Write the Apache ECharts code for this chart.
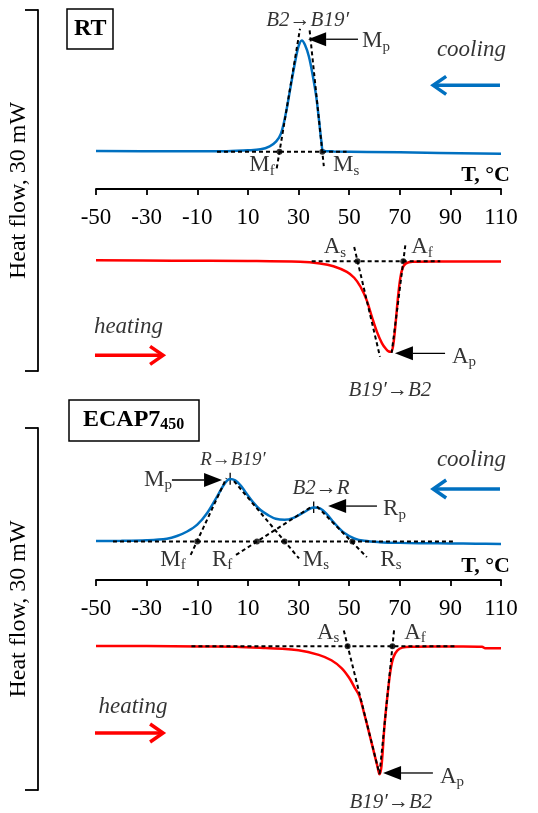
<!DOCTYPE html>
<html>
<head>
<meta charset="utf-8">
<script src="https://cdn.jsdelivr.net/npm/echarts@6/dist/echarts.min.js"></script>
<style>
html,body{margin:0;padding:0;background:#fff}
#main{width:538px;height:813px}
</style>
</head>
<body>
<div id="main"></div>
<script>
// DSC curves, T in degC, heat flow in mW (0 = temperature axis line)
var ticksT = [-50, 110, 20];

// RT state
var rtCoolT  = [-50,-20,0,10,15,18.6,21.2,23.1,25,26.9,28.7,30,31.3,32.5,34.1,35.7,37,38.2,39.1,39.9,44,70,110];
var rtCoolHF = [3.18,3.16,3.16,3.24,3.32,3.57,3.98,4.65,6.31,8.55,10.62,11.87,12.37,12.03,11.04,9.38,7.72,5.56,3.90,3.18,3.15,3.07,2.96];
var rtHeatT  = [-50,-20,10,30.6,38.5,43.8,49.1,52,54.5,57,59,61,63,64.5,65.7,66.5,67.3,68.2,69.2,70.2,71.2,72.5,75,83.3,110];
var rtHeatHF = [-5.89,-5.93,-5.96,-6.03,-6.17,-6.39,-6.86,-7.35,-8.1,-9.25,-10.6,-11.85,-12.8,-13.25,-13.48,-13.5,-13.1,-11.5,-9.2,-7.4,-6.5,-6.15,-6.03,-6.0,-6.0];
// tangent construction lines [T1, HF1, T2, HF2]
var rtTangents = [[-2.2,3.13,49,3.13],[21.4,1.74,30.6,13.34],[34.4,13.2,40.0,1.92],
                  [35.2,-5.975,86,-5.975],[52.0,-4.79,62.2,-13.92],[72.2,-4.65,66.8,-13.6]];
var rtPoints = [[22.5,3.13],[39.4,3.13],[53.3,-5.975],[71.4,-5.975]];

// ECAP7 450 state
var ecCoolT  = [-50,-40,-30,-22,-18,-14,-10,-6,-2,1,3,5,7,9,12,15,18,21,24.5,28,32,36,38.5,41,44,48,52,56,62,70,80,90,100,110];
var ecCoolHF = [3.24,3.25,3.30,3.43,3.65,4.02,4.59,5.58,6.98,8.05,8.38,8.26,7.88,7.30,6.46,5.80,5.38,5.08,4.99,5.15,5.60,6.01,5.93,5.51,4.76,3.92,3.46,3.25,3.14,3.08,3.05,3.03,3.01,2.99];
var ecHeatT  = [-50,-30,-9,5,17,30,38,43,47,50,52,54,56,58,60,61.2,62,62.8,64,65.5,66.5,67.5,69,71,75,83,95,102.5,103.8,110];
var ecHeatHF = [-5.46,-5.47,-5.50,-5.52,-5.64,-5.82,-6.2,-6.65,-7.3,-8.1,-8.85,-9.6,-11.1,-12.75,-14.45,-15.45,-16.1,-15.4,-12.0,-8.9,-7.3,-6.4,-5.85,-5.6,-5.52,-5.50,-5.50,-5.52,-5.65,-5.65];
var ecTangents = [[-43.3,3.2,91,3.2],[-12.6,2.08,1.5,8.44],[4.5,8.2,30.2,1.79],[5.3,2.08,34.7,6.02],[37.3,6.1,57,1.9],
                  [-12.3,-5.48,91.6,-5.48],[47.9,-4.18,62,-16.1],[67.75,-4.17,62,-16.1]];
var ecPoints = [[-10,3.2],[13.6,3.2],[24.5,3.2],[51.3,3.2],[49.4,-5.48],[67.1,-5.48]];

// annotations [T, HF, text, align]
var rtNotes = [
  [33.6,14.04,'{i|B2→B19′}'],[55.1,12.3,'{m|M}{s|p}','left'],
  [15.6,1.99,'{m|M}{s|f}'],[48.8,1.99,'{m|M}{s|s}'],[98.3,11.55,'{c|cooling}'],
  [44.4,-4.82,'{m|A}{s|s}'],[78.8,-4.82,'{m|A}{s|f}'],[90.6,-13.9,'{m|A}{s|p}','left'],
  [66.1,-16.7,'{i|B19′→B2}'],[-37.2,-11.47,'{c|heating}']
];
var ecNotes = [
  [4.1,9.94,'{j|R→B19′}'],[-20.0,8.3,'{m|M}{s|p}','right'],[38.9,7.62,'{i|B2→R}'],
  [63.4,5.85,'{m|R}{s|p}','left'],[98.3,9.94,'{c|cooling}'],
  [-19.6,1.66,'{m|M}{s|f}'],[-0.2,1.66,'{m|R}{s|f}'],[36.9,1.66,'{m|M}{s|s}'],[66.5,1.66,'{m|R}{s|s}'],
  [41.7,-4.39,'{m|A}{s|s}'],[76.0,-4.39,'{m|A}{s|f}'],[85.9,-16.3,'{m|A}{s|p}','left'],
  [66.5,-18.4,'{i|B19′→B2}'],[-35.4,-10.52,'{c|heating}']
];
// arrows [T tail, HF tail, T tip, HF tip, kind] kind: 0 black head, 1 cooling, 2 heating, 3 tick
var rtArrows = [[53.5,12.47,33.8,12.47,0],[87.9,-13.63,68.1,-13.63,0],
                [109.6,8.64,83.2,8.64,1],[-50.4,-13.8,-23.5,-13.8,2]];
var ecArrows = [[-20.0,8.29,-0.2,8.29,0],[61.0,6.13,41.7,6.13,0],[83.1,-15.99,63.4,-15.99,0],
                [109.6,7.54,83.2,7.54,1],[-50.4,-12.68,-23.5,-12.68,2],
                [3,7.9,3,8.9,3],[36,5.55,36,6.5,3]];

var FONT = '"Liberation Serif", "Times New Roman", serif';
var BLUE = '#0070C0', RED = '#FF0000';
var chart = echarts.init(document.getElementById('main'));

function pairs(xs, ys) {
  return xs.map(function (x, i) { return [x, ys[i]]; });
}

var RICH = {
  m: {fontFamily: FONT, fontSize: 23, lineHeight: 26, color: '#000'},
  s: {fontFamily: FONT, fontSize: 15, lineHeight: 14, verticalAlign: 'bottom', color: '#000'},
  i: {fontFamily: FONT, fontSize: 21, fontStyle: 'italic', color: '#000'},
  j: {fontFamily: FONT, fontSize: 19, fontStyle: 'italic', color: '#000'},
  c: {fontFamily: FONT, fontSize: 23, fontStyle: 'italic', color: '#000'}
};

function arrowItem(params, api) {
  var p1 = api.coord([api.value(0), api.value(1)]);
  var p2 = api.coord([api.value(2), api.value(3)]);
  var kind = api.value(4);
  var dx = p2[0] - p1[0], dy = p2[1] - p1[1];
  var len = Math.sqrt(dx * dx + dy * dy);
  var ux = dx / len, uy = dy / len, nx = -uy, ny = ux;
  if (kind === 3) {
    return {type: 'line', shape: {x1: p1[0], y1: p1[1], x2: p2[0], y2: p2[1]}, style: {stroke: '#000', lineWidth: 1.3}};
  }
  if (kind === 0) {
    var hl = 18, hw = 7;
    var bx = p2[0] - ux * hl, by = p2[1] - uy * hl;
    return {type: 'group', children: [
      {type: 'line', shape: {x1: p1[0], y1: p1[1], x2: bx, y2: by}, style: {stroke: '#000', lineWidth: 1.3}},
      {type: 'polygon', shape: {points: [[p2[0], p2[1]], [bx + nx * hw, by + ny * hw], [bx - nx * hw, by - ny * hw]]},
        style: {fill: '#000'}}
    ]};
  }
  var col = kind === 1 ? BLUE : RED;
  var al = 13, aw = 9;
  return {type: 'group', children: [
    {type: 'line', shape: {x1: p1[0], y1: p1[1], x2: p2[0] - ux * 2, y2: p2[1] - uy * 2},
      style: {stroke: col, lineWidth: 3.5}},
    {type: 'polyline', shape: {points: [[p2[0] - ux * al + nx * aw, p2[1] - uy * al + ny * aw], [p2[0], p2[1]],
      [p2[0] - ux * al - nx * aw, p2[1] - uy * al - ny * aw]]},
      style: {stroke: col, lineWidth: 3.5, fill: null, lineJoin: 'miter'}}
  ]};
}

var series = [];
function addPanel(idx, cool, heat, tangents, points, notes, arrows) {
  series.push({type: 'line', xAxisIndex: idx, yAxisIndex: idx, data: cool, smooth: 0.35, symbol: 'none',
    lineStyle: {color: BLUE, width: 2.5}, silent: true});
  series.push({type: 'line', xAxisIndex: idx, yAxisIndex: idx, data: heat, smooth: 0.35, symbol: 'none',
    lineStyle: {color: RED, width: 2.5}, silent: true});
  for (var k = 0; k < tangents.length; k++) {
    var t = tangents[k];
    series.push({type: 'line', xAxisIndex: idx, yAxisIndex: idx, data: [[t[0], t[1]], [t[2], t[3]]],
      symbol: 'none', silent: true, lineStyle: {color: '#000', width: 2, type: [4, 3]}});
  }
  series.push({type: 'scatter', xAxisIndex: idx, yAxisIndex: idx, data: points, symbolSize: 6,
    itemStyle: {color: '#000'}, silent: true});
  series.push({type: 'custom', xAxisIndex: idx, yAxisIndex: idx, data: arrows, renderItem: arrowItem,
    silent: true, clip: false});
  series.push({type: 'scatter', xAxisIndex: idx, yAxisIndex: idx, symbolSize: 0.1, clip: false, silent: true,
    data: notes.map(function (n) {
      return {value: [n[0], n[1]], name: n[2], label: {align: n[3] || 'center'}};
    }),
    label: {show: true, position: 'inside', color: '#000', fontFamily: FONT, fontSize: 23,
      formatter: function (p) { return p.name; }, rich: RICH}
  });
}
addPanel(0, pairs(rtCoolT, rtCoolHF), pairs(rtHeatT, rtHeatHF), rtTangents, rtPoints, rtNotes, rtArrows);
addPanel(1, pairs(ecCoolT, ecCoolHF), pairs(ecHeatT, ecHeatHF), ecTangents, ecPoints, ecNotes, ecArrows);

// hidden x axes carry the data, visible ones sit at the bottom of an axis-only grid
function xDataAxis(g) {
  return {type: 'value', gridIndex: g, min: ticksT[0], max: ticksT[1], show: false};
}
function xShownAxis(g) {
  return {
    type: 'value', gridIndex: g, min: ticksT[0], max: ticksT[1], interval: ticksT[2], position: 'bottom',
    axisLine: {onZero: false, lineStyle: {color: '#000', width: 1.8}},
    axisTick: {length: 6, lineStyle: {color: '#000', width: 1.8}},
    axisLabel: {color: '#000', fontFamily: FONT, fontSize: 23, margin: 17},
    splitLine: {show: false},
    name: 'T, °C', nameLocation: 'end', nameGap: 9,
    nameTextStyle: {color: '#000', fontFamily: FONT, fontSize: 22, fontWeight: 'bold',
      align: 'right', verticalAlign: 'bottom', padding: [0, 0, 3, 0]}
  };
}
function yBracket(g, lo, hi) {
  return {
    type: 'value', gridIndex: g, min: lo, max: hi, position: 'left', offset: 58,
    axisLine: {show: true, onZero: false, lineStyle: {color: '#000', width: 1.8}},
    axisTick: {show: true, length: 13, customValues: [lo, hi], lineStyle: {color: '#000', width: 1.8}},
    axisLabel: {show: false}, splitLine: {show: false},
    name: 'Heat flow, 30 mW', nameLocation: 'middle', nameRotate: 90, nameGap: 7,
    nameTextStyle: {color: '#000', fontFamily: FONT, fontSize: 24}
  };
}
function yHidden(g) {
  return {type: 'value', gridIndex: g, min: 0, max: 1, show: false};
}

var option = {
  animation: false,
  backgroundColor: '#fff',
  title: [
    {text: 'RT', left: 67, top: 9, padding: [8, 7, 8, 7], borderColor: '#000', borderWidth: 1.5,
      textStyle: {fontFamily: FONT, fontSize: 24, fontWeight: 'bold', color: '#000'}},
    {text: '{b|ECAP7}{u|450}', left: 69, top: 399, padding: [8, 15, 8, 14], borderColor: '#000', borderWidth: 1.5,
      textStyle: {fontFamily: FONT, fontSize: 24, fontWeight: 'bold', color: '#000',
        rich: {b: {fontFamily: FONT, fontSize: 24, fontWeight: 'bold', lineHeight: 26, color: '#000'},
               u: {fontFamily: FONT, fontSize: 16, fontWeight: 'bold', lineHeight: 14, verticalAlign: 'bottom', color: '#000'}}}}
  ],
  grid: [
    {left: 96, right: 37, top: 10, height: 361, outerBoundsMode: 'none'},
    {left: 96, right: 37, top: 428, height: 362, outerBoundsMode: 'none'},
    {left: 96, right: 37, top: 10, height: 179, outerBoundsMode: 'none'},
    {left: 96, right: 37, top: 428, height: 152, outerBoundsMode: 'none'}
  ],
  xAxis: [xDataAxis(0), xDataAxis(1), xShownAxis(2), xShownAxis(3)],
  yAxis: [yBracket(0, -15.1, 14.9), yBracket(1, -17.4, 12.6), yHidden(2), yHidden(3)],
  series: series
};
chart.setOption(option);
</script>
</body>
</html>
